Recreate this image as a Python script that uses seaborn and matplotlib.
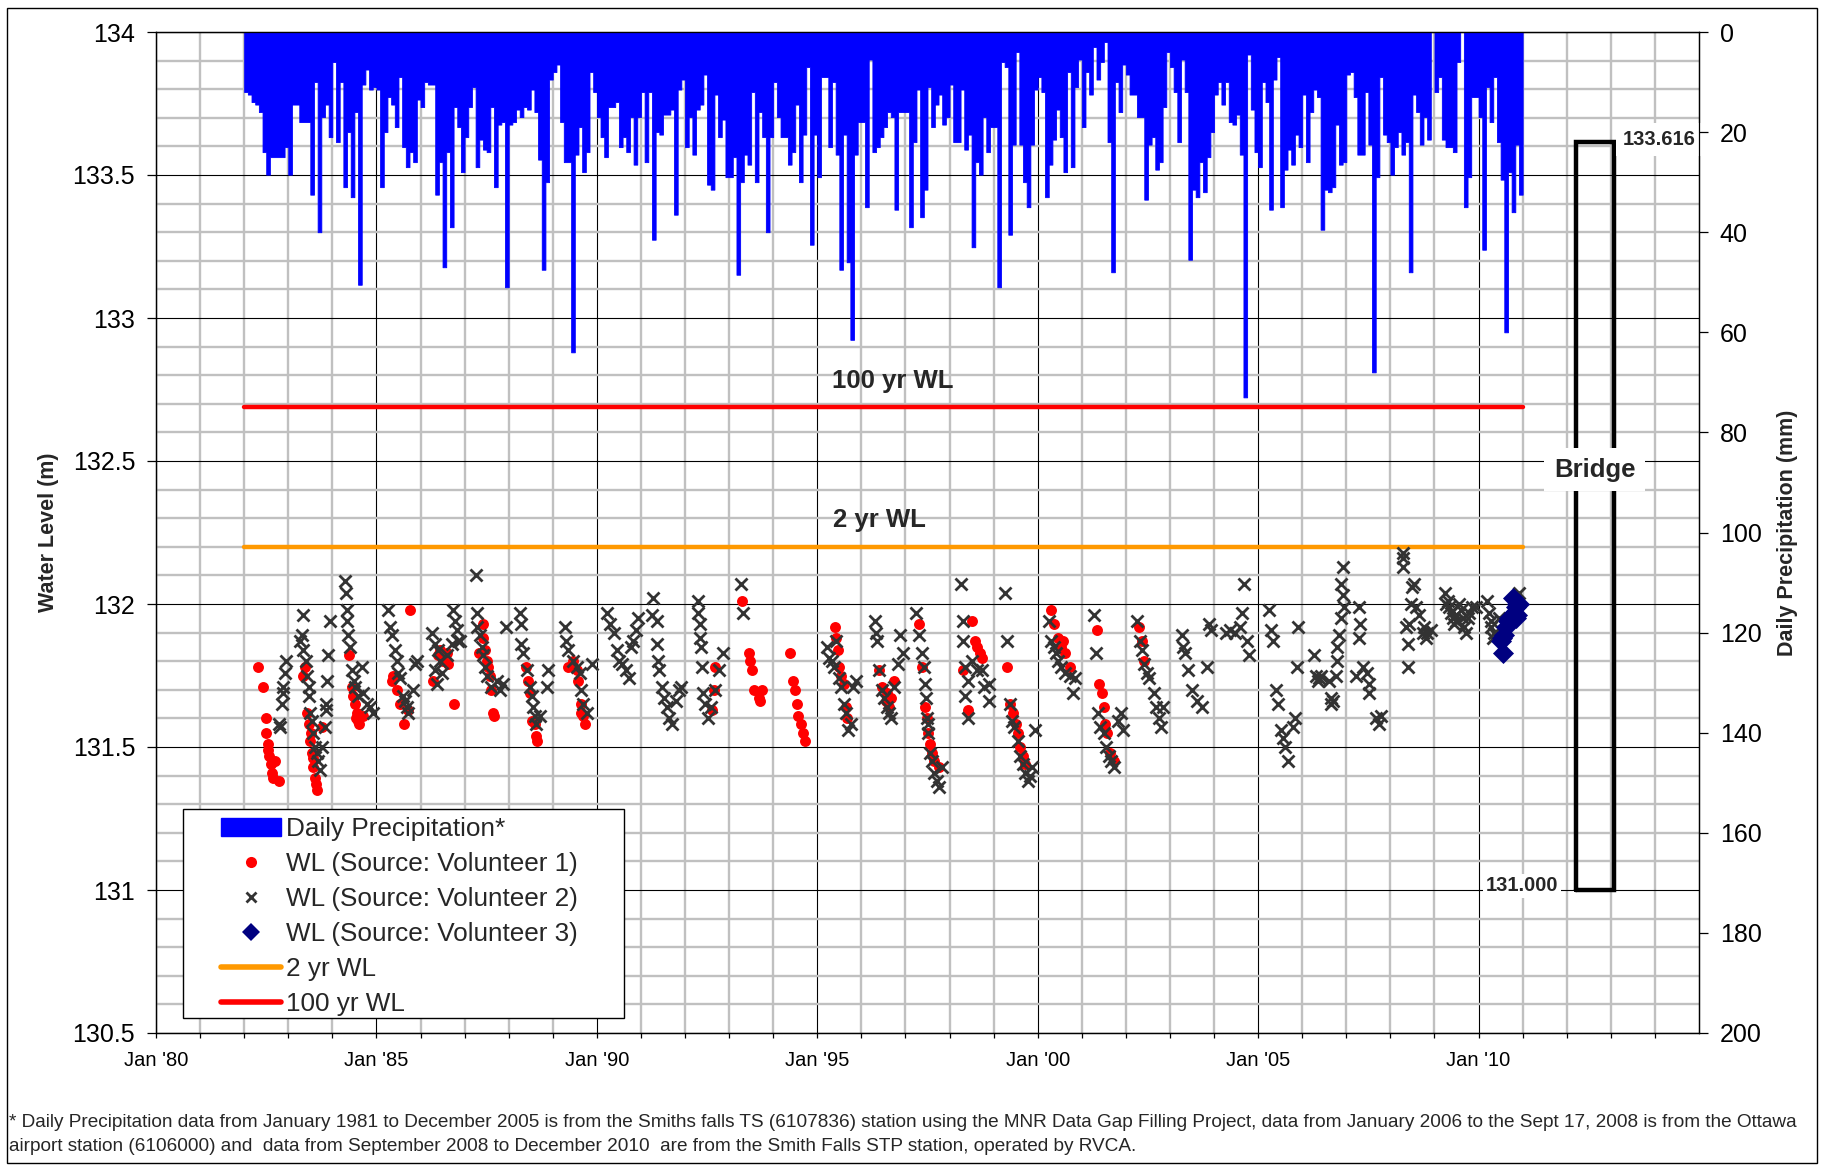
import numpy as np
import pandas as pd
import matplotlib
matplotlib.use("Agg")
import matplotlib.pyplot as plt
import seaborn as sns
from matplotlib.patches import Rectangle, Patch
from matplotlib.lines import Line2D
from matplotlib.ticker import FixedLocator, FixedFormatter, NullFormatter

# ---------------- data ----------------
precip_first_year = 1982
# monthly maximum daily precipitation (mm), Jan 1982 .. Dec 2010
precip_mm = [
    12, 12.5, 14, 14.5, 16, 24, 28.5, 25, 25, 25, 25, 23,            # 1982
    28.5, 14.5, 14.5, 18, 18, 18, 32.5, 10, 40, 17, 14.5, 21,        # 1983
    6, 22, 10, 31, 20, 33, 16, 50.5, 10.5, 7.5, 11.5, 11,            # 1984
    11.5, 31, 20, 13, 14.5, 19, 9, 23, 27, 24, 26, 13.5,             # 1985
    15, 10, 10.5, 10.5, 32.5, 26, 47, 24, 39, 15, 19, 28,            # 1986
    21, 15, 11, 27, 21.5, 23.5, 24, 15, 31, 18.5, 18, 51,            # 1987
    18.5, 18, 15.5, 17, 15, 15.5, 11.5, 16, 25.5, 47.5, 30, 9.5,     # 1988
    8, 6.5, 18, 26, 26, 64, 24.5, 19, 28, 24, 8, 12,                 # 1989
    17, 21, 25, 15, 15, 14, 23, 21, 24, 17, 26.5, 17,                # 1990
    12, 26, 12, 41.5, 20, 20.5, 16.5, 16.5, 15.5, 36.5, 11.5, 9.5,   # 1991
    23, 17, 24.5, 15.5, 14.5, 8.5, 30.5, 31.5, 12.5, 21, 17.5, 29,   # 1992
    29, 25, 48.5, 30, 24.5, 26.5, 12, 30, 16, 21, 40, 21,            # 1993
    10, 17, 21, 21, 26.5, 24, 14.5, 30, 20.5, 7, 42.5, 20.5,         # 1994
    29, 9, 9, 23, 10, 24.5, 47.5, 20.5, 46, 61.5, 24.5, 18,          # 1995
    18, 35, 5.5, 24, 23, 21, 19, 16, 17, 35.5, 16, 16,               # 1996
    16, 39, 22, 11.5, 37, 31.5, 11, 19, 14.5, 12.5, 18.5, 17,        # 1997
    10.5, 22, 22, 11.5, 23.5, 20.5, 43, 26, 28.5, 17, 24, 19,        # 1998
    19, 51, 6, 7, 40.5, 22.5, 4, 22.5, 30, 35, 22.5, 11.5,           # 1999
    9, 12, 33, 26.5, 21.5, 15.5, 21, 28, 8, 27, 11, 5.5,             # 2000
    19, 8, 12.5, 3, 9.5, 6, 2, 22, 48, 10, 16, 6.5,                  # 2001
    8.5, 12.5, 12.5, 17, 17, 33.5, 22.5, 21, 27.5, 26, 15, 4,        # 2002
    7, 12, 22, 5.5, 12, 45.5, 31.5, 33, 26, 32, 25, 20,              # 2003
    12.5, 10, 14.5, 10, 18, 18.5, 16.5, 24.5, 73, 4.5, 15.5, 24,     # 2004
    27, 10, 14, 35.5, 9.5, 5, 35, 27.5, 23.5, 26.5, 20.5, 23,        # 2005
    12.5, 26, 16, 11.5, 13, 39.5, 31.5, 32, 31, 18.5, 26.5, 26,      # 2006
    8.5, 8, 13, 24.5, 24.5, 12, 22.5, 68, 29, 9, 20.5, 22,           # 2007
    28.5, 23, 20, 24.5, 22, 48, 12.5, 16, 22.5, 17, 21.5, 0,         # 2008
    12, 9, 21.5, 23, 23, 24, 6, 0, 35, 29, 13, 13,                   # 2009
    17, 43.5, 11, 18, 9, 22, 29.5, 60, 28, 36, 22.5, 32.5,           # 2010
]

v1_year = [1982.32, 1982.42, 1982.49, 1982.50, 1982.53, 1982.55, 1982.57, 1982.60, 1982.63, 1982.65, 1982.70, 1982.78,
           1983.33, 1983.38, 1983.43, 1983.46, 1983.49, 1983.52, 1983.53, 1983.57, 1983.57, 1983.61, 1983.62, 1983.65, 1983.76,
           1984.38, 1984.44, 1984.47, 1984.51, 1984.53, 1984.55, 1984.59, 1984.61, 1984.70,
           1985.35, 1985.38, 1985.46, 1985.53, 1985.63, 1985.72, 1985.76,
           1986.29, 1986.40, 1986.44, 1986.50, 1986.59, 1986.63, 1986.77,
           1987.33, 1987.41, 1987.42, 1987.46, 1987.50, 1987.54, 1987.58, 1987.61, 1987.65, 1987.67,
           1988.39, 1988.44, 1988.48, 1988.52, 1988.60, 1988.63, 1988.65,
           1989.35, 1989.47, 1989.54, 1989.58, 1989.63, 1989.65, 1989.69, 1989.73,
           1992.62, 1992.65, 1992.67, 1993.30, 1993.45, 1993.48, 1993.52, 1993.56, 1993.67, 1993.70, 1993.75,
           1994.38, 1994.46, 1994.49, 1994.53, 1994.57, 1994.62, 1994.67, 1994.73,
           1995.41, 1995.43, 1995.47, 1995.49, 1995.54, 1995.60, 1995.65, 1995.68,
           1996.41, 1996.46, 1996.55, 1996.57, 1996.63, 1996.68, 1996.73,
           1997.31, 1997.38, 1997.44, 1997.49, 1997.52, 1997.55, 1997.60, 1997.65, 1997.76,
           1998.30, 1998.41, 1998.52, 1998.58, 1998.63, 1998.68, 1998.74,
           1999.31, 1999.37, 1999.44, 1999.50, 1999.55, 1999.60, 1999.66, 1999.71,
           2000.31, 2000.38, 2000.47, 2000.52, 2000.58, 2000.63, 2000.74,
           2001.34, 2001.39, 2001.45, 2001.50, 2001.53, 2001.58, 2001.64, 2001.72,
           2002.29, 2002.37, 2002.40]
v1_level = [131.78, 131.71, 131.60, 131.55, 131.51, 131.49, 131.47, 131.44, 131.41, 131.39, 131.45, 131.38,
            131.75, 131.78, 131.62, 131.58, 131.52, 131.55, 131.48, 131.43, 131.46, 131.39, 131.37, 131.35, 131.57,
            131.82, 131.71, 131.68, 131.65, 131.60, 131.62, 131.59, 131.58, 131.61,
            131.73, 131.75, 131.70, 131.65, 131.58, 131.63, 131.98,
            131.73, 131.82, 131.84, 131.80, 131.83, 131.79, 131.65,
            131.83, 131.93, 131.88, 131.84, 131.80, 131.78, 131.75, 131.70, 131.62, 131.61,
            131.78, 131.73, 131.69, 131.59, 131.58, 131.54, 131.52,
            131.78, 131.80, 131.77, 131.73, 131.65, 131.62, 131.61, 131.58,
            131.63, 131.70, 131.78, 132.01, 131.83, 131.80, 131.77, 131.70, 131.67, 131.66, 131.70,
            131.83, 131.73, 131.70, 131.65, 131.61, 131.58, 131.55, 131.52,
            131.92, 131.88, 131.84, 131.78, 131.75, 131.72, 131.64, 131.60,
            131.77, 131.71, 131.66, 131.69, 131.64, 131.67, 131.73,
            131.93, 131.78, 131.64, 131.60, 131.55, 131.51, 131.48, 131.45, 131.43,
            131.77, 131.63, 131.94, 131.87, 131.85, 131.83, 131.81,
            131.78, 131.65, 131.62, 131.58, 131.55, 131.50, 131.47, 131.44,
            131.98, 131.93, 131.88, 131.85, 131.87, 131.83, 131.78,
            131.91, 131.72, 131.69, 131.64, 131.58, 131.55, 131.48, 131.45,
            131.92, 131.87, 131.80]

v2_year = [1982.78, 1982.81, 1982.85, 1982.87, 1982.89, 1982.93, 1982.95,
           1983.27, 1983.31, 1983.34, 1983.34, 1983.40, 1983.43, 1983.46, 1983.46, 1983.49, 1983.53, 1983.57, 1983.61, 1983.65, 1983.68, 1983.72, 1983.76, 1983.83, 1983.86, 1983.86, 1983.87, 1983.91, 1983.95,
           1984.29, 1984.30, 1984.33, 1984.33, 1984.36, 1984.39, 1984.44, 1984.48, 1984.51, 1984.59, 1984.67, 1984.70, 1984.78, 1984.85, 1984.93,
           1985.27, 1985.31, 1985.35, 1985.42, 1985.46, 1985.50, 1985.54, 1985.61, 1985.65, 1985.69, 1985.72, 1985.84, 1985.88, 1985.91,
           1986.25, 1986.33, 1986.33, 1986.37, 1986.40, 1986.44, 1986.48, 1986.59, 1986.71, 1986.74, 1986.78, 1986.82, 1986.86, 1986.90,
           1987.26, 1987.27, 1987.29, 1987.35, 1987.39, 1987.42, 1987.46, 1987.50, 1987.61, 1987.73, 1987.80, 1987.88, 1987.95,
           1988.26, 1988.27, 1988.29, 1988.33, 1988.41, 1988.48, 1988.52, 1988.56, 1988.60, 1988.63, 1988.71, 1988.86, 1988.90,
           1989.28, 1989.31, 1989.35, 1989.47, 1989.54, 1989.62, 1989.65, 1989.69, 1989.77, 1989.88,
           1990.23, 1990.29, 1990.40, 1990.45, 1990.50, 1990.56, 1990.67, 1990.72, 1990.77, 1990.83, 1990.88, 1990.94,
           1991.26, 1991.28, 1991.37, 1991.37, 1991.39, 1991.42, 1991.48, 1991.53, 1991.59, 1991.64, 1991.70, 1991.80, 1991.86, 1991.91,
           1992.29, 1992.29, 1992.35, 1992.35, 1992.37, 1992.38, 1992.40, 1992.45, 1992.51, 1992.58, 1992.67, 1992.78, 1992.87,
           1993.27, 1993.32,
           1995.22, 1995.27, 1995.33, 1995.38, 1995.43, 1995.49, 1995.54, 1995.60, 1995.65, 1995.70, 1995.76, 1995.81, 1995.87,
           1996.30, 1996.33, 1996.35, 1996.41, 1996.46, 1996.52, 1996.57, 1996.63, 1996.68, 1996.73, 1996.84, 1996.87, 1996.95,
           1997.24, 1997.31, 1997.38, 1997.42, 1997.44, 1997.46, 1997.48, 1997.50, 1997.52, 1997.55, 1997.60, 1997.65, 1997.71, 1997.76, 1997.82,
           1998.25, 1998.30, 1998.30, 1998.36, 1998.41, 1998.36, 1998.41, 1998.52, 1998.63, 1998.74, 1998.79, 1998.90, 1998.90, 1999.26, 1999.30,
           1999.37, 1999.41, 1999.47, 1999.55, 1999.60, 1999.66, 1999.71, 1999.77, 1999.82, 1999.88, 1999.93,
           2000.25, 2000.31, 2000.36, 2000.42, 2000.47, 2000.53, 2000.63, 2000.74, 2000.80, 2000.85,
           2001.28, 2001.32, 2001.36, 2001.42, 2001.50, 2001.55, 2001.61, 2001.66, 2001.72, 2001.83, 2001.90, 2001.93,
           2002.26, 2002.31, 2002.37, 2002.42, 2002.48, 2002.53, 2002.64, 2002.69, 2002.75, 2002.80, 2002.85,
           2003.27, 2003.29, 2003.34, 2003.40, 2003.50, 2003.61, 2003.72, 2003.83, 2003.88, 2003.94,
           2004.26, 2004.37, 2004.48, 2004.59, 2004.64, 2004.67, 2004.75, 2004.80,
           2005.24, 2005.29, 2005.33, 2005.40, 2005.46, 2005.51, 2005.56, 2005.62, 2005.67, 2005.78, 2005.83, 2005.89, 2005.91,
           2006.27, 2006.31, 2006.39, 2006.35, 2006.42, 2006.61, 2006.65, 2006.69, 2006.65, 2006.76, 2006.80, 2006.80, 2006.84, 2006.88, 2006.95, 2006.92, 2006.88, 2006.92,
           2007.28, 2007.31, 2007.29, 2007.22, 2007.37, 2007.48, 2007.52, 2007.51, 2007.67, 2007.79, 2007.75,
           2008.28, 2008.28, 2008.28, 2008.35, 2008.39, 2008.50, 2008.54, 2008.47, 2008.58, 2008.65, 2008.73, 2008.81, 2008.77, 2008.84, 2008.92, 2008.39, 2008.43,
           2009.24, 2009.26, 2009.33, 2009.37, 2009.41, 2009.45, 2009.49, 2009.56, 2009.64, 2009.67, 2009.71, 2009.79, 2009.86, 2009.94, 2009.49, 2009.60, 2009.30, 2009.75,
           2010.20, 2010.24, 2010.28, 2010.28, 2010.32, 2010.36, 2010.92, 2010.47]
v2_level = [131.58, 131.57, 131.65, 131.69, 131.71, 131.76, 131.80,
            131.87, 131.89, 131.96, 131.84, 131.80, 131.75, 131.71, 131.68, 131.62, 131.59, 131.55, 131.50, 131.48, 131.45, 131.42, 131.50, 131.57, 131.63, 131.65, 131.73, 131.82, 131.94,
            132.08, 132.04, 131.98, 131.94, 131.89, 131.85, 131.77, 131.73, 131.71, 131.68, 131.78, 131.69, 131.65, 131.64, 131.62,
            131.98, 131.92, 131.89, 131.84, 131.80, 131.76, 131.74, 131.68, 131.66, 131.64, 131.62, 131.70, 131.79, 131.80,
            131.90, 131.86, 131.77, 131.72, 131.84, 131.80, 131.76, 131.82, 131.86, 131.98, 131.94, 131.91, 131.87, 131.87,
            132.10, 131.97, 131.92, 131.89, 131.85, 131.82, 131.78, 131.75, 131.71, 131.73, 131.70, 131.72, 131.92,
            131.97, 131.93, 131.86, 131.83, 131.77, 131.71, 131.68, 131.64, 131.61, 131.58, 131.61, 131.71, 131.77,
            131.92, 131.87, 131.84, 131.80, 131.78, 131.76, 131.70, 131.65, 131.62, 131.79,
            131.97, 131.93, 131.90, 131.84, 131.80, 131.79, 131.77, 131.74, 131.85, 131.87, 131.91, 131.95,
            131.96, 132.02, 131.94, 131.86, 131.80, 131.77, 131.71, 131.67, 131.64, 131.60, 131.58, 131.66, 131.70, 131.71,
            132.01, 131.97, 131.93, 131.88, 131.85, 131.78, 131.69, 131.65, 131.60, 131.64, 131.70, 131.77, 131.83,
            132.07, 131.97,
            131.85, 131.81, 131.80, 131.78, 131.87, 131.74, 131.71, 131.65, 131.62, 131.56, 131.58, 131.71, 131.73,
            131.94, 131.90, 131.87, 131.77, 131.70, 131.67, 131.64, 131.62, 131.60, 131.71, 131.79, 131.89, 131.83,
            131.97, 131.89, 131.83, 131.78, 131.72, 131.67, 131.60, 131.58, 131.55, 131.48, 131.45, 131.41, 131.38, 131.36, 131.43,
            132.07, 131.94, 131.87, 131.78, 131.73, 131.68, 131.60, 131.80, 131.77, 131.77, 131.71, 131.72, 131.66, 132.04, 131.87,
            131.65, 131.59, 131.57, 131.52, 131.47, 131.44, 131.41, 131.38, 131.40, 131.43, 131.56,
            131.94, 131.87, 131.85, 131.83, 131.80, 131.78, 131.76, 131.75, 131.69, 131.74,
            131.96, 131.83, 131.62, 131.57, 131.55, 131.50, 131.47, 131.45, 131.43, 131.59, 131.62, 131.56,
            131.94, 131.87, 131.84, 131.79, 131.76, 131.74, 131.69, 131.64, 131.60, 131.57, 131.64,
            131.89, 131.85, 131.83, 131.77, 131.70, 131.66, 131.64, 131.78, 131.93, 131.91,
            131.90, 131.91, 131.90, 131.92, 131.97, 132.07, 131.87, 131.82,
            131.98, 131.91, 131.87, 131.70, 131.65, 131.56, 131.53, 131.50, 131.45, 131.57, 131.60, 131.78, 131.92,
            131.82, 131.75, 131.74, 131.73, 131.75, 131.73, 131.67, 131.66, 131.65, 131.75, 131.80, 131.85, 131.89, 131.95, 131.99, 132.03, 132.07, 132.13,
            131.99, 131.93, 131.88, 131.75, 131.78, 131.76, 131.72, 131.69, 131.60, 131.61, 131.58,
            132.18, 132.16, 132.13, 131.92, 131.78, 132.06, 132.07, 132.00, 131.99, 131.96, 131.90, 131.88, 131.92, 131.90, 131.91, 131.86, 131.93,
            132.04, 132.00, 131.99, 131.97, 131.95, 131.93, 131.96, 132.00, 131.95, 131.92, 131.90, 131.97, 131.99, 131.99, 131.94, 131.98, 132.01, 131.95,
            132.01, 131.97, 131.94, 131.92, 131.88, 131.90, 132.04, 131.95]

v3_year = [2010.51, 2010.54, 2010.56, 2010.58, 2010.62, 2010.66, 2010.70, 2010.74, 2010.77, 2010.79, 2010.81, 2010.85, 2010.85, 2010.88, 2010.88, 2010.92]
v3_level = [131.87, 131.88, 131.83, 131.89, 131.92, 131.94, 131.95, 131.95, 131.96, 132.02, 131.97, 131.99, 131.95, 132.00, 131.96, 132.00]

wl_years = [1982.0, 2011.0]
wl_2yr = [132.20, 132.20]
wl_100yr = [132.69, 132.69]

bridge_x = [2012.21, 2012.21, 2013.07, 2013.07, 2012.21]
bridge_y = [131.000, 133.616, 133.616, 131.000, 131.000]

x_major = [1980, 1985, 1990, 1995, 2000, 2005, 2010]
x_labels = ["Jan '80", "Jan '85", "Jan '90", "Jan '95", "Jan '00", "Jan '05", "Jan '10"]
y_left_ticks = [130.5, 131, 131.5, 132, 132.5, 133, 133.5, 134]
y_left_labels = ["130.5", "131", "131.5", "132", "132.5", "133", "133.5", "134"]
y_right_ticks = list(range(0, 201, 20))

footnote = ("* Daily Precipitation data from January 1981 to December 2005 is from the Smiths falls TS (6107836) station "
            "using the MNR Data Gap Filling Project, data from January 2006 to the Sept 17, 2008 is from the Ottawa\n"
            "airport station (6106000) and  data from September 2008 to December 2010  are from the Smith Falls STP station, operated by RVCA.")

# ---------------- figure ----------------
sns.set_theme(style="white")
plt.rcParams["font.family"] = ["Liberation Sans", "DejaVu Sans"]

W, H = 1825, 1166
fig = plt.figure(figsize=(W / 100, H / 100), dpi=100)
L, R, T, B = 156, 1699, 32, 1033
rect = [L / W, 1 - B / H, (R - L) / W, (B - T) / H]

# background axes: only the grid
axg = fig.add_axes(rect, zorder=0)
axg.set_xlim(1980, 2015)
axg.set_ylim(130.5, 134)
axg.xaxis.set_major_locator(FixedLocator(x_major))
axg.xaxis.set_minor_locator(FixedLocator(list(range(1981, 2015))))
axg.yaxis.set_major_locator(FixedLocator(y_left_ticks))
axg.yaxis.set_minor_locator(FixedLocator([130.5 + 0.1 * k for k in range(36)]))
axg.grid(which="minor", color="#C0C0C0", linewidth=1.7)
axg.grid(which="major", color="black", linewidth=0.8)
axg.tick_params(which="both", length=0, labelbottom=False, labelleft=False)
for s in axg.spines.values():
    s.set_visible(False)

# main axes (water level), transparent, above the grid
ax = fig.add_axes(rect, zorder=1)
ax.patch.set_visible(False)
# precipitation axes on top
ax2 = ax.twinx()
ax2.set_zorder(2)
ax2.patch.set_visible(False)

# precipitation (monthly bars hanging from top, secondary axis)
n_months = len(precip_mm)
edges = [precip_first_year + k / 12.0 for k in range(n_months + 1)]
centers = [e + 1 / 24.0 for e in edges[:-1]]
pdf = pd.DataFrame({"t": centers, "mm": precip_mm})
sns.histplot(data=pdf, x="t", weights="mm", bins=edges, element="step", fill=True,
             color="#0000FF", alpha=1.0, linewidth=0.6, ax=ax2, legend=False)
for coll in ax2.collections:
    coll.set_facecolor("#0000FF")
    coll.set_edgecolor("#0000FF")
    coll.set_alpha(1.0)
for ln in ax2.lines:
    ln.set_color("#0000FF")
ax2.set_ylim(200, 0)

# water level series
d1 = pd.DataFrame({"year": v1_year, "level": v1_level})
d2 = pd.DataFrame({"year": v2_year, "level": v2_level})
d3 = pd.DataFrame({"year": v3_year, "level": v3_level})
sns.scatterplot(data=d1, x="year", y="level", ax=ax, color="#FF0000", marker="o", s=62,
                linewidth=0, zorder=3, legend=False)
sns.scatterplot(data=d2, x="year", y="level", ax=ax, color="#333333", marker="x", s=75,
                linewidth=2.0, zorder=4, legend=False)
sns.scatterplot(data=d3, x="year", y="level", ax=ax, color="#000080", marker="D", s=115,
                linewidth=0, zorder=5, legend=False)

dl = pd.DataFrame({"year": wl_years, "two": wl_2yr, "hund": wl_100yr})
sns.lineplot(data=dl, x="year", y="two", ax=ax, color="#FF9900", linewidth=3.2, zorder=3)
sns.lineplot(data=dl, x="year", y="hund", ax=ax, color="#FF0000", linewidth=3.2, zorder=3)

# bridge
ax.plot(bridge_x, bridge_y, color="black", linewidth=3.2, solid_joinstyle="miter", zorder=4)
ax.text(2012.64, 132.47, "Bridge", fontsize=18.5, fontweight="bold", ha="center", va="center",
        bbox=dict(facecolor="white", edgecolor="none", pad=7), zorder=6)
ax.text(2013.27, 133.625, "133.616", fontsize=14.5, fontweight="bold", ha="left", va="center",
        bbox=dict(facecolor="white", edgecolor="none", pad=5), zorder=6, clip_on=False)
ax.text(2011.80, 131.014, "131.000", fontsize=14.5, fontweight="bold", ha="right", va="center",
        bbox=dict(facecolor="white", edgecolor="none", pad=2), zorder=6)

ax.text(1996.72, 132.78, "100 yr WL", fontsize=18.5, fontweight="bold", ha="center", va="center", zorder=6)
ax.text(1996.42, 132.294, "2 yr WL", fontsize=18.5, fontweight="bold", ha="center", va="center", zorder=6)

# axes limits / ticks
ax.set_xlim(1980, 2015)
ax.set_ylim(130.5, 134)
ax.xaxis.set_major_locator(FixedLocator(x_major))
ax.xaxis.set_major_formatter(FixedFormatter(x_labels))
ax.xaxis.set_minor_locator(FixedLocator(list(range(1981, 2015))))
ax.xaxis.set_minor_formatter(NullFormatter())
ax.yaxis.set_major_locator(FixedLocator(y_left_ticks))
ax.yaxis.set_major_formatter(FixedFormatter(y_left_labels))
ax.yaxis.set_minor_locator(FixedLocator([]))
ax.grid(False)
ax.tick_params(axis="x", which="both", direction="out", length=3.8, width=0.9, colors="black",
               labelsize=14.5, pad=9.5, bottom=True)
ax.tick_params(axis="y", which="major", direction="out", length=6.5, width=0.9, colors="black",
               labelsize=18, pad=8.5, left=True)

ax2.yaxis.set_major_locator(FixedLocator(y_right_ticks))
ax2.yaxis.set_minor_locator(FixedLocator([]))
ax2.tick_params(axis="y", which="major", direction="out", length=6.5, width=0.9, colors="black",
                labelsize=18, pad=8.5, right=True)
ax2.grid(False)
ax2.set_xlabel("")
ax.set_xlabel("")

ax.set_ylabel("Water Level (m)", fontsize=15.5, fontweight="bold", labelpad=10)
ax2.set_ylabel("Daily Precipitation (mm)", fontsize=15.5, fontweight="bold", labelpad=11, rotation=90)

for a in (ax, ax2):
    for s in a.spines.values():
        s.set_color("black")
        s.set_linewidth(0.9)
        s.set_visible(True)

# legend (frame drawn as a figure patch so padding matches)
fig.add_artist(Rectangle((183 / W, 1 - 1018 / H), (624 - 183) / W, (1018 - 809) / H,
                         transform=fig.transFigure, facecolor="white", edgecolor="black",
                         linewidth=1.0, zorder=4))
handles = [
    Patch(facecolor="#0000FF", edgecolor="#0000FF"),
    Line2D([], [], ls="none", marker="o", color="#FF0000", markersize=8, markeredgewidth=0),
    Line2D([], [], ls="none", marker="x", color="#333333", markersize=7.5, markeredgewidth=2.0),
    Line2D([], [], ls="none", marker="D", color="#000080", markersize=9, markeredgewidth=0),
    Line2D([], [], color="#FF9900", linewidth=4),
    Line2D([], [], color="#FF0000", linewidth=4),
]
labels = ["Daily Precipitation*", "WL (Source: Volunteer 1)", "WL (Source: Volunteer 2)",
          "WL (Source: Volunteer 3)", "2 yr WL", "100 yr WL"]
fig.legend(handles, labels, loc="upper left", bbox_to_anchor=(221 / W, 1 - 817 / H),
           frameon=False, fontsize=18.8, handlelength=2.3, handletextpad=0.2,
           labelspacing=0.42, borderpad=0, borderaxespad=0, handleheight=0.7)

# footnote and outer border
fig.text(9 / W, 1 - 1134.5 / H, footnote, fontsize=13.7, ha="left", va="center", linespacing=1.6)
fig.add_artist(Rectangle((7 / W, 3 / H), (1817 - 7) / W, (1158 - 3) / H, transform=fig.transFigure,
                         facecolor="none", edgecolor="black", linewidth=1.0, zorder=0))

fig.savefig("out.png", dpi=100)
